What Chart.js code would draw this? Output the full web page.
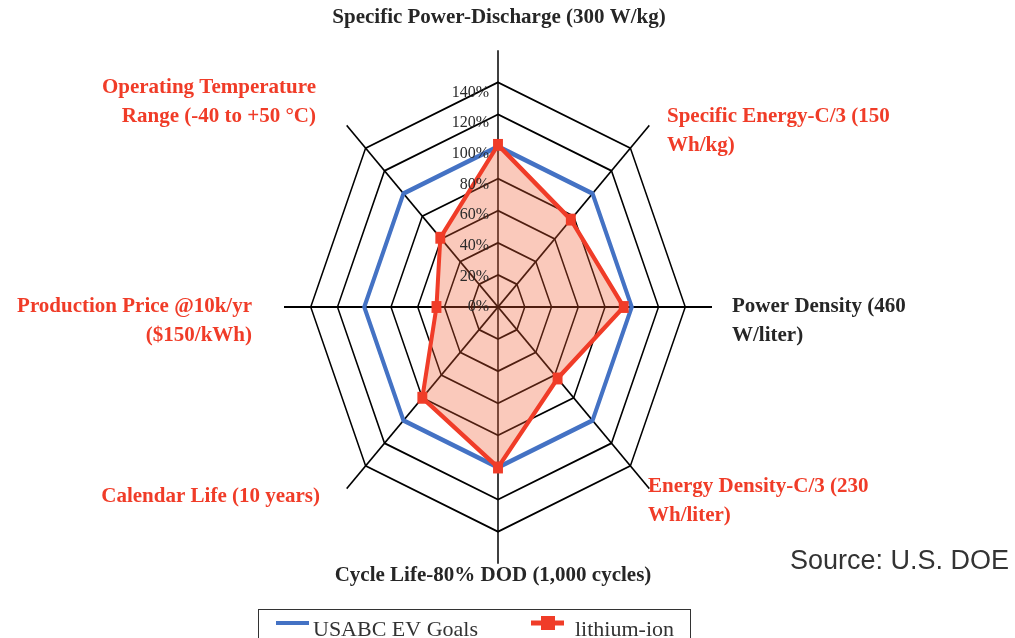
<!DOCTYPE html>
<html>
<head>
<meta charset="utf-8">
<script src="https://cdn.jsdelivr.net/npm/chart.js@4.4.0/dist/chart.umd.min.js"></script>
<style>
  html, body { margin: 0; padding: 0; background: #fff; }
  #wrap { position: relative; width: 1015px; height: 638px; }
</style>
</head>
<body>
<div id="wrap"><canvas id="radar" width="1015" height="638"></canvas></div>
<script>
// axes, clockwise from the top
const categories = [
    ['Specific Power-Discharge (300 W/kg)'],
    ['Specific Energy-C/3 (150', 'Wh/kg)'],
    ['Power Density (460', 'W/liter)'],
    ['Energy Density-C/3 (230', 'Wh/liter)'],
    ['Cycle Life-80% DOD (1,000 cycles)'],
    ['Calendar Life (10 years)'],
    ['Production Price @10k/yr', '($150/kWh)'],
    ['Operating Temperature', 'Range (-40 to +50 °C)']
];
const seriesNames = ['USABC EV Goals', 'lithium-ion'];
const usabcGoals = [100, 100, 100, 100, 100, 100, 100, 100];
const lithiumIon = [101, 77, 94, 63, 100, 80, 46, 61];
const tickValues = [0, 20, 40, 60, 80, 100, 120, 140];
const tickLabels = ['0%', '20%', '40%', '60%', '80%', '100%', '120%', '140%'];
const scaleMax = 160; // spokes run a bit past the last ring
const sourceNote = 'Source: U.S. DOE';

// the original picture is taller than wide
const STRETCH = 1.2;

const RED = '#f03c28';
const DARK = '#262626';
const labelLayout = [
    { x: 499, y: 18, align: 'center', color: DARK },
    { x: 667, y: 117, align: 'left', color: RED },
    { x: 732, y: 307, align: 'left', color: DARK },
    { x: 648, y: 487, align: 'left', color: RED },
    { x: 493, y: 576, align: 'center', color: DARK },
    { x: 320, y: 497, align: 'right', color: RED },
    { x: 252, y: 307, align: 'right', color: RED },
    { x: 316, y: 88, align: 'right', color: RED }
];

const stretchPlugin = {
    id: 'stretch',
    beforeDraw(chart) {
        const ctx = chart.ctx;
        const yc = chart.scales.r.yCenter;
        ctx.save();
        ctx.translate(0, yc);
        ctx.scale(1, STRETCH);
        ctx.translate(0, -yc);
    },
    afterDatasetsDraw(chart) {
        chart.ctx.restore();
    }
};

const textPlugin = {
    id: 'texts',
    afterDraw(chart) {
        const ctx = chart.ctx;
        const r = chart.scales.r;
        ctx.save();

        // tick labels, left of the vertical spoke
        ctx.font = '16px "Liberation Serif"';
        ctx.fillStyle = '#2a2a2a';
        ctx.textAlign = 'right';
        ctx.textBaseline = 'middle';
        tickValues.forEach((v, i) => {
            const d = r.getDistanceFromCenterForValue(v) * STRETCH * 0.955;
            ctx.fillText(tickLabels[i], r.xCenter - 9, r.yCenter - d);
        });

        // axis names
        ctx.font = 'bold 21px "Liberation Serif"';
        categories.forEach((lines, i) => {
            const lay = labelLayout[i];
            ctx.fillStyle = lay.color;
            ctx.textAlign = lay.align;
            lines.forEach((line, j) => ctx.fillText(line, lay.x, lay.y + j * 28.5));
        });

        // source note
        ctx.font = '27px "Liberation Sans"';
        ctx.fillStyle = '#333';
        ctx.textAlign = 'left';
        ctx.fillText(sourceNote, 790, 562);

        // legend box (cut by the bottom edge like the original)
        ctx.strokeStyle = '#333';
        ctx.lineWidth = 1;
        ctx.strokeRect(258.5, 609.5, 432, 60);
        const ds = chart.data.datasets;
        ctx.lineWidth = 4;
        ctx.strokeStyle = ds[0].borderColor;
        ctx.beginPath(); ctx.moveTo(276, 623); ctx.lineTo(309, 623); ctx.stroke();
        ctx.lineWidth = 5;
        ctx.strokeStyle = ds[1].borderColor;
        ctx.beginPath(); ctx.moveTo(531, 623); ctx.lineTo(564, 623); ctx.stroke();
        ctx.fillStyle = ds[1].pointBackgroundColor;
        ctx.fillRect(541, 616, 14, 14);
        ctx.font = '22px "Liberation Serif"';
        ctx.fillStyle = '#333';
        ctx.textAlign = 'left';
        ctx.textBaseline = 'alphabetic';
        ctx.fillText(seriesNames[0], 313, 636);
        ctx.fillText(seriesNames[1], 575, 636);

        ctx.restore();
    }
};

const ctx = document.getElementById('radar').getContext('2d');
new Chart(ctx, {
    type: 'radar',
    data: {
        labels: categories,
        datasets: [{
            label: seriesNames[0],
            data: usabcGoals,
            borderColor: '#4472c4',
            borderWidth: 4,
            pointRadius: 0,
            fill: false,
            order: 2
        }, {
            label: seriesNames[1],
            data: lithiumIon,
            borderColor: RED,
            backgroundColor: 'rgba(240, 90, 50, 0.33)',
            borderWidth: 4,
            pointStyle: 'rect',
            pointRadius: 7,
            pointBackgroundColor: RED,
            pointBorderColor: RED,
            pointBorderWidth: 0,
            fill: true,
            order: 1
        }]
    },
    options: {
        responsive: false,
        animation: false,
        devicePixelRatio: 1,
        layout: {
            padding: { left: 284, right: 303, top: 93, bottom: 117 }
        },
        scales: {
            r: {
                min: 0,
                max: scaleMax,
                ticks: { display: false, stepSize: 20 },
                pointLabels: { display: false },
                grid: {
                    color: (c) => c.tick && c.tick.value >= scaleMax ? 'rgba(0,0,0,0)' : '#000',
                    lineWidth: 1.5
                },
                angleLines: { color: '#000', lineWidth: 1.5 }
            }
        },
        plugins: {
            legend: { display: false },
            tooltip: { enabled: false }
        }
    },
    plugins: [stretchPlugin, textPlugin]
});
</script>
</body>
</html>
